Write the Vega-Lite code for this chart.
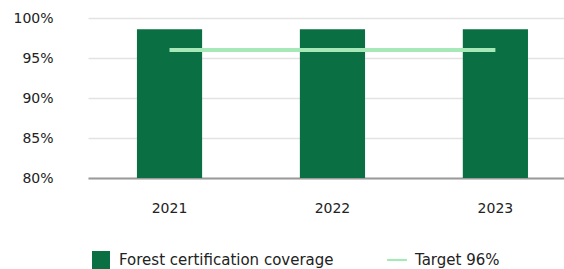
{
  "$schema": "https://vega.github.io/schema/vega-lite/v6.json",
  "width": 476,
  "height": 160,
  "padding": {"left": 12, "top": 11, "right": 0, "bottom": 0},
  "autosize": {"type": "pad"},
  "background": "white",
  "config": {
    "font": "DejaVu Sans",
    "view": {"stroke": null},
    "axis": {"labelFont": "DejaVu Sans", "labelColor": "#222222", "labelFontSize": 14}
  },
  "data": {
    "values": [
      {"year": "2021", "coverage": 98.6, "target": 96},
      {"year": "2022", "coverage": 98.6, "target": 96},
      {"year": "2023", "coverage": 98.6, "target": 96}
    ]
  },
  "encoding": {
    "x": {
      "field": "year",
      "type": "nominal",
      "scale": {"paddingInner": 0.6, "paddingOuter": 0.2607, "align": 0.576},
      "axis": {
        "title": null,
        "labelAngle": 0,
        "ticks": false,
        "labelPadding": 23,
        "domainColor": "#9a9a9a",
        "domainWidth": 2,
        "labelFontSize": 14
      }
    }
  },
  "layer": [
    {
      "mark": {"type": "bar", "clip": true},
      "encoding": {
        "y": {
          "field": "coverage",
          "type": "quantitative",
          "scale": {"domain": [80, 100], "zero": false},
          "axis": {
            "title": null,
            "values": [80, 85, 90, 95, 100],
            "labelExpr": "datum.value + '%'",
            "labelOverlap": false,
            "domain": false,
            "ticks": false,
            "labelPadding": 35,
            "gridColor": "#e3e3e3",
            "gridWidth": 1.5
          }
        },
        "color": {
          "datum": "Forest certification coverage",
          "type": "nominal",
          "scale": {
            "domain": ["Forest certification coverage", "Target 96%"],
            "range": ["#0a7043", "#a6e8b8"]
          },
          "legend": {
            "title": null,
            "orient": "none",
            "legendX": 4,
            "legendY": 233,
            "direction": "horizontal",
            "labelFontSize": 15,
            "labelColor": "#222222",
            "labelFont": "DejaVu Sans",
            "labelOffset": 9,
            "columnPadding": 53,
            "symbolSize": 324,
            "labelLimit": 400,
            "encode": {
              "symbols": {
                "update": {
                  "shape": {"signal": "datum.value === 'Target 96%' ? 'M-1.1,-1M-1.1,-0.12H1.1V0.12H-1.1ZM1.1,1' : 'M-1,-1H1V1H-1Z'"},
                  "fill": {"signal": "datum.value === 'Target 96%' ? '#a6e8b8' : '#0a7043'"},
                  "stroke": {"value": "transparent"},
                  "strokeWidth": {"value": 0}
                }
              }
            }
          }
        }
      }
    },
    {
      "mark": {"type": "line", "strokeWidth": 4, "strokeCap": "butt"},
      "encoding": {
        "y": {
          "field": "target",
          "type": "quantitative",
          "axis": {
            "title": null,
            "values": [80, 85, 90, 95, 100],
            "labelExpr": "datum.value + '%'",
            "labelOverlap": false,
            "domain": false,
            "ticks": false,
            "labelPadding": 35,
            "gridColor": "#e3e3e3",
            "gridWidth": 1.5
          }
        },
        "color": {"datum": "Target 96%", "type": "nominal"}
      }
    }
  ]
}
